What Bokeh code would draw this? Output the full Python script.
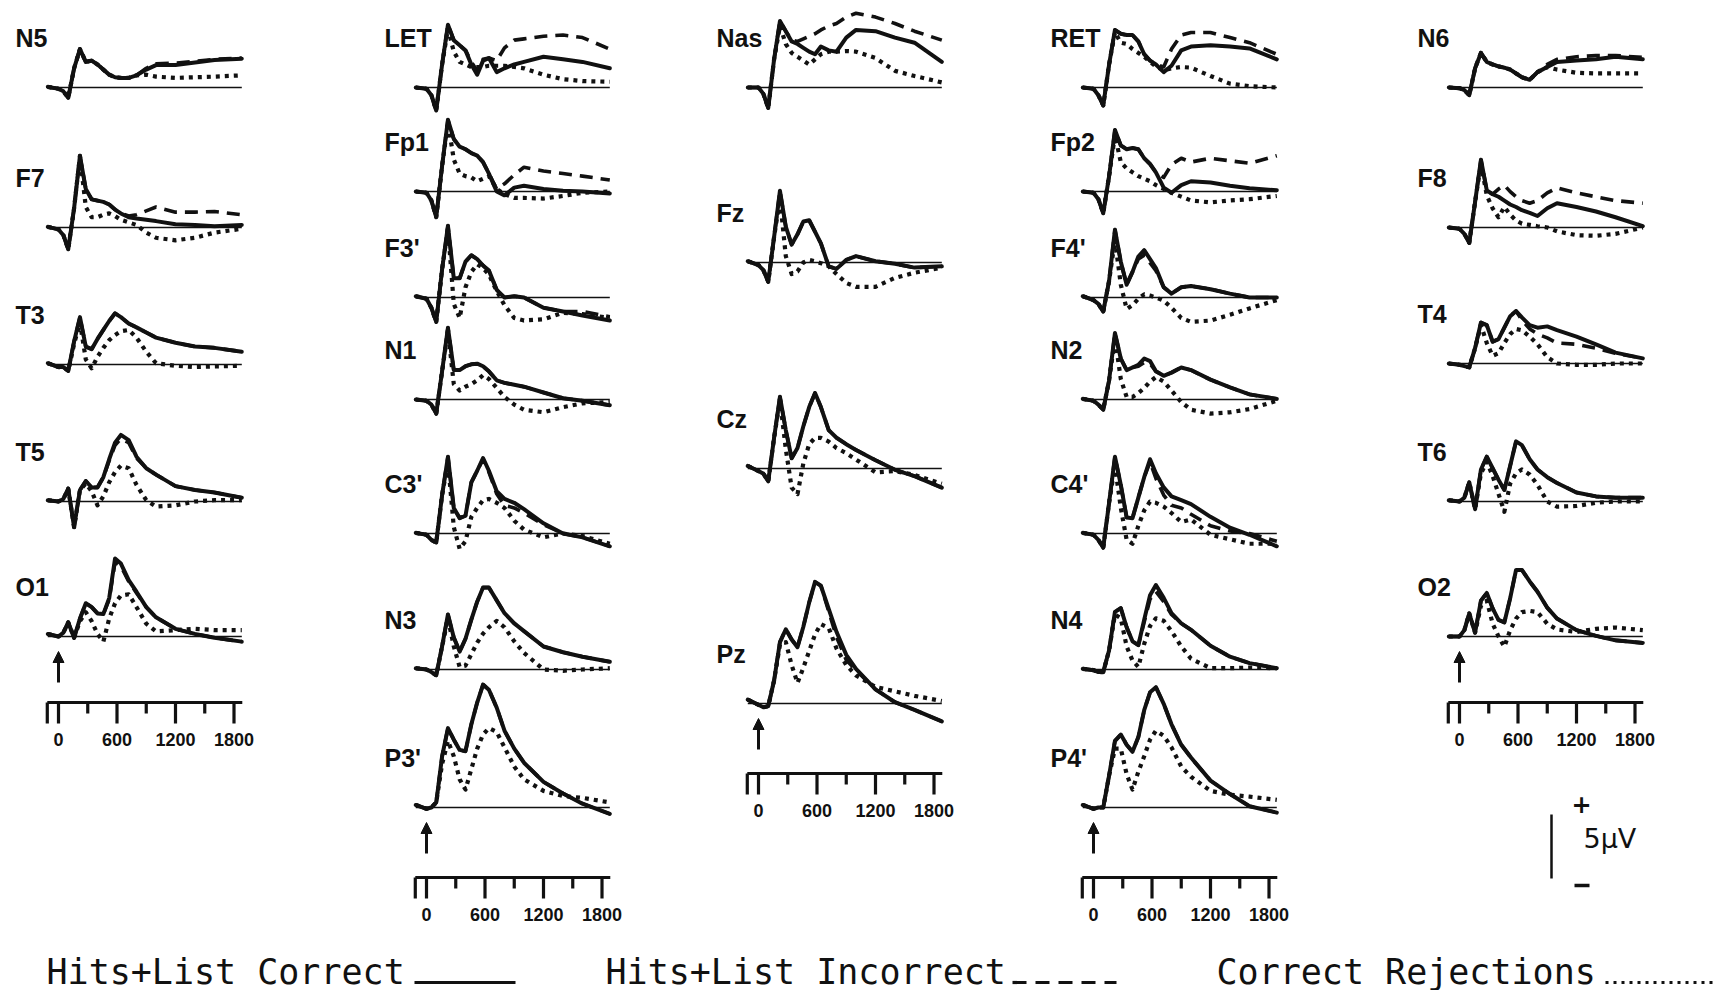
from bokeh.plotting import figure
from bokeh.models import Range1d, Arrow, NormalHead
from bokeh.embed import file_html
from bokeh.resources import INLINE
from bokeh.core.properties import value

# time points (ms) at which every waveform is sampled
T = [-110, 0, 50, 100, 160, 220, 280, 340, 400, 460, 520, 580, 640, 720, 800, 900, 1000, 1200, 1400, 1600, 1880]

# amplitudes in microvolts (positive up); hit = Hits+List Correct, inc = Hits+List Incorrect, cr = Correct Rejections
N5_hit = [0.05, -0.1, -0.3, -0.8, 1.5, 3.0, 2.0, 2.1, 1.8, 1.4, 1.0, 0.8, 0.75, 0.75, 0.95, 1.4, 1.75, 1.75, 1.95, 2.15, 2.25]
N5_inc = [0.05, -0.1, -0.3, -0.8, 1.5, 3.0, 2.0, 2.1, 1.8, 1.4, 1.0, 0.8, 0.75, 0.75, 0.95, 1.5, 1.85, 1.9, 2.05, 2.2, 2.3]
N5_cr = [0.05, -0.1, -0.3, -0.8, 1.5, 3.0, 2.0, 2.1, 1.8, 1.4, 1.0, 0.8, 0.75, 0.75, 0.95, 1.0, 0.85, 0.75, 0.8, 0.85, 0.95]

F7_hit = [0.05, -0.15, -0.6, -1.7, 1.5, 5.6, 3.0, 2.2, 2.1, 2.0, 1.8, 1.4, 1.1, 0.8, 0.7, 0.6, 0.5, 0.25, 0.2, 0.1, 0.2]
F7_inc = [0.05, -0.15, -0.6, -1.7, 1.5, 5.6, 3.0, 2.2, 2.1, 2.0, 1.8, 1.4, 1.1, 0.9, 1.0, 1.3, 1.6, 1.2, 1.2, 1.25, 1.0]
F7_cr = [0.05, -0.15, -0.6, -1.7, 1.5, 5.6, 1.6, 0.8, 0.8, 1.0, 1.1, 0.9, 0.6, 0.4, 0.2, -0.4, -0.8, -1.0, -0.8, -0.4, -0.1]

T3_hit = [0.1, -0.2, -0.2, -0.5, 1.8, 3.7, 1.4, 1.2, 2.0, 2.7, 3.4, 4.0, 3.7, 3.2, 2.9, 2.5, 2.1, 1.7, 1.4, 1.3, 1.0]
T3_inc = [0.1, -0.2, -0.2, -0.5, 1.8, 3.7, 1.4, 1.2, 2.0, 2.7, 3.4, 4.0, 3.7, 3.2, 2.9, 2.5, 2.1, 1.7, 1.4, 1.3, 1.0]
T3_cr = [0.1, -0.2, -0.2, -0.5, 1.6, 3.3, 0.4, -0.3, 0.6, 1.3, 1.9, 2.3, 2.6, 2.7, 2.1, 1.0, 0.1, -0.1, -0.2, -0.15, -0.1]

T5_hit = [0.1, 0.0, 0.2, 1.0, -2.0, 0.9, 1.6, 1.1, 1.1, 1.9, 3.3, 4.6, 5.2, 4.8, 3.5, 2.6, 2.1, 1.2, 0.9, 0.7, 0.3]
T5_inc = [0.1, 0.0, 0.2, 1.0, -2.0, 0.9, 1.6, 1.1, 1.1, 1.9, 3.2, 4.4, 4.9, 4.6, 3.4, 2.6, 2.1, 1.2, 0.9, 0.7, 0.3]
T5_cr = [0.1, 0.0, 0.2, 1.0, -2.0, 0.9, 1.4, 0.8, -0.3, 0.4, 1.5, 2.3, 2.8, 2.6, 1.3, 0.1, -0.4, -0.3, 0.0, 0.1, 0.1]

O1_hit = [0.2, 0.0, 0.3, 1.1, -0.1, 1.4, 2.6, 2.3, 1.8, 1.75, 3.0, 6.1, 5.7, 4.4, 3.5, 2.3, 1.5, 0.6, 0.2, -0.1, -0.4]
O1_inc = [0.2, 0.0, 0.3, 1.1, -0.1, 1.4, 2.6, 2.3, 1.8, 1.75, 2.9, 5.8, 5.5, 4.3, 3.4, 2.3, 1.5, 0.6, 0.2, -0.1, -0.4]
O1_cr = [0.2, 0.0, 0.3, 1.1, -0.1, 1.2, 1.9, 1.2, 0.2, -0.4, 1.4, 2.6, 3.2, 3.3, 2.3, 1.0, 0.4, 0.5, 0.6, 0.5, 0.5]

LET_hit = [0.0, -0.1, -0.6, -1.8, 1.8, 4.9, 3.7, 3.3, 2.9, 1.8, 1.0, 2.1, 2.3, 1.2, 1.5, 1.8, 2.0, 2.4, 2.2, 2.0, 1.5]
LET_inc = [0.0, -0.1, -0.6, -1.8, 1.8, 4.9, 3.7, 3.3, 2.9, 2.0, 1.3, 2.2, 2.3, 2.1, 3.1, 3.7, 3.8, 4.0, 4.1, 3.9, 3.0]
LET_cr = [0.0, -0.1, -0.6, -1.8, 1.8, 4.6, 2.8, 2.0, 1.8, 1.6, 1.6, 1.6, 1.7, 1.7, 1.7, 1.6, 1.5, 1.0, 0.65, 0.5, 0.45]

Fp1_hit = [0.0, -0.1, -0.7, -2.0, 2.0, 5.6, 4.1, 3.5, 3.3, 3.0, 2.8, 2.3, 1.4, 0.0, -0.3, 0.3, 0.45, 0.2, 0.05, 0.0, -0.15]
Fp1_inc = [0.0, -0.1, -0.7, -2.0, 2.0, 5.6, 4.1, 3.5, 3.3, 3.0, 2.8, 2.3, 1.4, 0.2, 0.6, 1.3, 1.9, 1.6, 1.4, 1.2, 0.9]
Fp1_cr = [0.0, -0.1, -0.7, -2.0, 2.0, 5.4, 2.5, 1.4, 1.2, 1.1, 0.8, 1.0, 1.2, 0.2, -0.2, -0.5, -0.5, -0.55, -0.35, -0.1, 0.0]

F3_hit = [0.1, -0.1, -0.8, -1.9, 2.2, 5.6, 1.5, 1.5, 2.8, 3.3, 3.0, 2.5, 2.1, 0.6, 0.0, 0.1, 0.0, -0.8, -1.1, -1.4, -1.8]
F3_inc = [0.1, -0.1, -0.8, -1.9, 2.2, 5.6, 1.5, 1.5, 2.8, 3.3, 3.0, 2.5, 2.1, 0.6, 0.0, 0.1, 0.0, -0.8, -1.1, -1.1, -1.5]
F3_cr = [0.1, -0.1, -0.8, -1.9, 2.2, 5.4, -0.5, -1.6, 0.8, 2.0, 2.6, 2.3, 1.8, 0.5, -0.6, -1.6, -1.8, -1.7, -1.2, -1.3, -1.6]

N1_hit = [0.0, -0.1, -0.4, -1.1, 2.2, 5.6, 2.3, 2.3, 2.6, 2.75, 2.8, 2.6, 2.2, 1.5, 1.3, 1.15, 1.0, 0.55, 0.1, -0.1, -0.45]
N1_inc = [0.0, -0.1, -0.4, -1.1, 2.2, 5.6, 2.3, 2.3, 2.6, 2.75, 2.8, 2.6, 2.2, 1.5, 1.3, 1.15, 1.0, 0.55, 0.1, -0.1, -0.45]
N1_cr = [0.0, -0.1, -0.4, -1.1, 2.2, 5.4, 1.2, 0.7, 1.0, 1.2, 1.5, 1.9, 1.6, 0.9, 0.2, -0.4, -0.8, -1.0, -0.6, -0.3, -0.2]

C3_hit = [0.05, -0.1, -0.5, -0.7, 3.0, 6.0, 2.0, 1.2, 1.4, 4.0, 4.9, 5.9, 4.9, 3.3, 2.7, 2.4, 1.9, 0.8, 0.0, -0.3, -1.0]
C3_inc = [0.05, -0.1, -0.5, -0.7, 3.0, 6.0, 2.0, 1.2, 1.4, 4.0, 4.9, 5.8, 4.8, 3.1, 2.2, 2.0, 1.6, 0.7, 0.0, -0.3, -1.0]
C3_cr = [0.05, -0.1, -0.5, -0.7, 3.0, 5.6, 0.5, -1.2, -0.6, 1.3, 2.0, 2.6, 2.7, 2.4, 2.0, 1.0, 0.3, -0.3, 0.0, -0.2, -0.8]

N3_hit = [0.1, 0.0, -0.2, -0.45, 1.8, 4.3, 2.5, 1.4, 2.4, 3.9, 5.3, 6.4, 6.4, 5.4, 4.4, 3.6, 3.0, 1.8, 1.35, 1.0, 0.6]
N3_inc = [0.1, 0.0, -0.2, -0.45, 1.8, 4.3, 2.5, 1.4, 2.4, 3.9, 5.3, 6.4, 6.4, 5.4, 4.4, 3.6, 3.0, 1.8, 1.35, 1.0, 0.6]
N3_cr = [0.1, 0.0, -0.2, -0.45, 1.8, 4.0, 1.8, 0.2, 0.3, 1.2, 2.1, 2.8, 3.3, 3.8, 3.3, 2.2, 1.3, 0.0, -0.1, 0.0, 0.1]

P3_hit = [0.2, -0.1, 0.0, 0.4, 4.0, 6.2, 5.3, 4.5, 4.4, 6.5, 8.2, 9.6, 9.2, 7.8, 6.0, 4.6, 3.5, 2.0, 1.1, 0.3, -0.5]
P3_inc = [0.2, -0.1, 0.0, 0.4, 4.0, 6.2, 5.3, 4.5, 4.4, 6.5, 8.2, 9.6, 9.2, 7.8, 6.0, 4.6, 3.5, 2.0, 1.1, 0.3, -0.5]
P3_cr = [0.2, -0.1, 0.0, 0.4, 3.4, 5.2, 4.0, 2.2, 1.4, 3.0, 4.6, 5.7, 6.2, 5.9, 4.7, 3.2, 2.2, 1.3, 0.9, 0.75, 0.4]

Nas_hit = [0.0, 0.0, -0.5, -1.6, 2.2, 5.2, 4.4, 3.6, 3.4, 3.1, 2.8, 2.6, 3.2, 2.9, 2.8, 3.9, 4.5, 4.4, 3.9, 3.5, 2.0]
Nas_inc = [0.0, 0.0, -0.5, -1.6, 2.2, 5.2, 4.4, 3.7, 3.6, 3.8, 4.0, 4.2, 4.5, 4.8, 5.0, 5.5, 5.8, 5.5, 5.0, 4.4, 3.7]
Nas_cr = [0.0, 0.0, -0.5, -1.6, 2.2, 4.8, 3.4, 2.7, 2.4, 2.1, 1.8, 2.2, 2.6, 2.8, 2.8, 2.85, 2.8, 2.3, 1.3, 0.9, 0.4]

Fz_hit = [0.1, -0.2, -0.6, -1.5, 2.0, 5.6, 2.8, 1.4, 2.2, 3.2, 3.3, 2.4, 1.5, -0.3, -0.5, 0.2, 0.5, 0.1, -0.1, -0.4, -0.3]
Fz_inc = [0.1, -0.2, -0.6, -1.5, 2.0, 5.6, 2.8, 1.4, 2.2, 3.2, 3.3, 2.4, 1.5, -0.3, -0.5, 0.2, 0.5, 0.1, -0.1, -0.4, -0.3]
Fz_cr = [0.1, -0.2, -0.6, -1.5, 2.0, 5.0, 0.5, -0.9, -0.7, 0.0, 0.2, 0.1, -0.05, -0.3, -0.9, -1.6, -1.9, -1.9, -1.2, -0.8, -0.4]

Cz_hit = [0.2, -0.2, -0.4, -1.0, 2.4, 5.6, 3.0, 0.8, 1.6, 3.3, 4.8, 5.9, 4.8, 3.0, 2.4, 1.9, 1.45, 0.65, -0.1, -0.6, -1.5]
Cz_inc = [0.2, -0.2, -0.4, -1.0, 2.4, 5.6, 3.0, 0.8, 1.6, 3.3, 4.8, 5.9, 4.8, 3.0, 2.4, 1.9, 1.45, 0.65, -0.1, -0.6, -1.5]
Cz_cr = [0.2, -0.2, -0.4, -1.0, 2.4, 5.4, 1.5, -1.5, -2.0, 0.4, 1.9, 2.4, 2.4, 2.1, 1.6, 1.2, 0.7, -0.3, -0.2, -0.5, -1.2]

Pz_hit = [0.3, -0.1, -0.3, -0.2, 1.8, 4.8, 5.8, 5.0, 4.4, 6.0, 7.9, 9.5, 9.2, 7.4, 5.6, 3.8, 2.7, 1.1, 0.1, -0.5, -1.4]
Pz_inc = [0.3, -0.1, -0.3, -0.2, 1.8, 4.8, 5.8, 5.0, 4.4, 6.0, 7.9, 9.5, 9.2, 7.2, 5.2, 3.4, 2.6, 1.1, 0.1, -0.5, -1.4]
Pz_cr = [0.3, -0.1, -0.3, -0.2, 1.8, 4.6, 4.8, 3.0, 1.6, 2.8, 4.1, 5.4, 6.2, 5.9, 4.3, 3.0, 2.2, 1.3, 0.95, 0.6, 0.2]

RET_hit = [0.0, -0.1, -0.6, -1.4, 1.8, 4.5, 4.2, 4.1, 4.1, 3.6, 2.6, 2.1, 1.8, 1.2, 1.7, 2.9, 3.2, 3.3, 3.2, 3.05, 2.2]
RET_inc = [0.0, -0.1, -0.6, -1.4, 1.8, 4.5, 4.2, 4.1, 4.1, 3.6, 2.6, 2.1, 1.8, 1.6, 3.0, 4.1, 4.3, 4.3, 3.9, 3.5, 2.6]
RET_cr = [0.0, -0.1, -0.6, -1.4, 1.8, 4.3, 3.5, 3.4, 3.0, 2.7, 2.4, 2.0, 1.65, 1.35, 1.5, 1.6, 1.55, 0.9, 0.3, 0.1, 0.0]

Fp2_hit = [0.0, -0.1, -0.6, -1.7, 1.2, 4.8, 3.6, 3.3, 3.4, 3.3, 2.6, 2.15, 1.5, 0.3, -0.1, 0.5, 0.8, 0.7, 0.45, 0.25, 0.1]
Fp2_inc = [0.0, -0.1, -0.6, -1.7, 1.2, 4.8, 3.6, 3.3, 3.4, 3.3, 2.6, 2.15, 1.5, 1.1, 2.1, 2.6, 2.3, 2.6, 2.4, 2.2, 2.8]
Fp2_cr = [0.0, -0.1, -0.6, -1.7, 1.2, 4.4, 2.3, 1.8, 1.5, 1.2, 1.0, 0.8, 0.5, 0.2, -0.1, -0.4, -0.7, -0.85, -0.7, -0.6, -0.35]

F4_hit = [0.1, -0.2, -0.5, -1.1, 1.3, 5.3, 2.8, 1.0, 2.0, 3.2, 3.7, 3.0, 2.3, 0.8, 0.3, 0.8, 0.9, 0.65, 0.3, 0.0, 0.0]
F4_inc = [0.1, -0.2, -0.5, -1.1, 1.3, 5.3, 2.8, 1.0, 2.0, 3.0, 3.3, 2.7, 2.1, 0.8, 0.3, 0.8, 0.9, 0.65, 0.3, 0.0, 0.0]
F4_cr = [0.1, -0.2, -0.5, -1.1, 1.3, 4.5, 1.0, -0.9, -0.6, -0.1, 0.25, 0.15, 0.0, -0.25, -0.8, -1.6, -1.9, -1.8, -1.35, -0.85, -0.2]

N2_hit = [0.05, -0.1, -0.4, -0.8, 1.5, 5.2, 3.2, 2.3, 2.5, 2.7, 3.2, 3.0, 2.2, 1.85, 2.1, 2.5, 2.3, 1.55, 0.95, 0.4, 0.05]
N2_inc = [0.05, -0.1, -0.4, -0.8, 1.5, 5.2, 3.2, 2.3, 2.5, 2.6, 2.9, 2.8, 2.2, 1.85, 2.1, 2.5, 2.3, 1.55, 0.95, 0.4, 0.05]
N2_cr = [0.05, -0.1, -0.4, -0.8, 1.5, 4.8, 1.6, 0.2, 0.2, 0.5, 0.9, 1.4, 1.75, 1.4, 0.7, -0.2, -0.8, -1.1, -1.0, -0.75, -0.1]

C4_hit = [0.05, -0.1, -0.5, -1.1, 2.4, 6.0, 3.8, 1.25, 1.2, 2.8, 4.4, 5.8, 4.7, 3.6, 2.9, 2.6, 2.3, 1.3, 0.45, -0.1, -1.0]
C4_inc = [0.05, -0.1, -0.5, -1.1, 2.4, 6.0, 3.8, 1.25, 1.2, 2.8, 4.4, 5.6, 4.3, 3.0, 2.2, 2.0, 1.5, 0.6, 0.2, 0.0, -0.6]
C4_cr = [0.05, -0.1, -0.5, -1.1, 2.4, 5.3, 2.0, -0.5, -0.8, 0.6, 1.8, 2.5, 2.4, 2.1, 1.6, 0.9, 1.1, -0.1, -0.45, -0.8, -0.8]

N4_hit = [0.05, -0.05, -0.2, -0.2, 1.5, 4.5, 4.8, 3.3, 2.2, 1.9, 3.9, 5.8, 6.6, 5.6, 4.4, 3.6, 3.1, 1.85, 1.0, 0.5, 0.1]
N4_inc = [0.05, -0.05, -0.2, -0.2, 1.5, 4.5, 4.8, 3.3, 2.2, 1.9, 3.7, 5.5, 6.1, 5.3, 4.3, 3.6, 3.1, 1.85, 1.0, 0.5, 0.1]
N4_cr = [0.05, -0.05, -0.2, -0.2, 1.5, 4.3, 4.0, 1.8, 0.7, 0.2, 2.0, 3.4, 4.0, 3.8, 3.0, 1.8, 0.85, 0.1, 0.1, 0.15, 0.1]

P4_hit = [0.2, -0.1, 0.0, 0.0, 2.5, 5.2, 5.7, 4.9, 4.35, 5.5, 7.6, 9.0, 9.4, 8.1, 6.5, 4.9, 3.9, 2.1, 1.05, 0.1, -0.4]
P4_inc = [0.2, -0.1, 0.0, 0.0, 2.5, 5.2, 5.7, 4.9, 4.35, 5.5, 7.6, 9.0, 9.4, 8.1, 6.5, 4.9, 3.9, 2.1, 1.05, 0.1, -0.4]
P4_cr = [0.2, -0.1, 0.0, 0.0, 2.5, 4.6, 4.6, 2.6, 1.4, 2.8, 4.0, 5.3, 6.0, 5.6, 4.7, 3.2, 2.4, 1.3, 1.0, 0.85, 0.6]

N6_hit = [0.0, -0.05, -0.2, -0.6, 1.5, 2.7, 2.0, 1.8, 1.65, 1.55, 1.4, 1.1, 0.8, 0.6, 1.2, 1.6, 2.0, 2.1, 2.2, 2.4, 2.2]
N6_inc = [0.0, -0.05, -0.2, -0.6, 1.5, 2.7, 2.0, 1.8, 1.65, 1.55, 1.4, 1.1, 0.8, 0.6, 1.2, 1.8, 2.2, 2.4, 2.5, 2.5, 2.35]
N6_cr = [0.0, -0.05, -0.2, -0.6, 1.5, 2.7, 2.0, 1.8, 1.65, 1.55, 1.4, 1.1, 0.8, 0.6, 1.2, 1.6, 1.4, 1.15, 1.1, 1.1, 1.1]

F8_hit = [0.0, -0.1, -0.5, -1.2, 2.0, 5.3, 2.9, 2.6, 2.4, 2.1, 1.8, 1.6, 1.35, 1.15, 0.9, 1.5, 1.9, 1.6, 1.25, 0.8, 0.1]
F8_inc = [0.0, -0.1, -0.5, -1.2, 2.0, 5.3, 2.9, 2.6, 3.0, 3.3, 2.8, 2.4, 2.1, 1.9, 2.1, 2.7, 3.1, 2.7, 2.4, 2.1, 1.9]
F8_cr = [0.0, -0.1, -0.5, -1.2, 2.0, 5.0, 2.5, 1.5, 0.8, 1.6, 1.0, 0.55, 0.3, 0.2, 0.1, 0.0, -0.3, -0.6, -0.65, -0.5, 0.0]

T4_hit = [0.0, -0.1, -0.2, -0.3, 1.2, 3.2, 3.0, 1.7, 1.9, 2.8, 3.7, 4.1, 3.6, 3.0, 2.8, 2.9, 2.6, 2.1, 1.5, 0.85, 0.4]
T4_inc = [0.0, -0.1, -0.2, -0.3, 1.2, 3.2, 3.0, 1.7, 1.9, 2.8, 3.7, 4.1, 3.4, 2.7, 2.3, 2.0, 1.6, 1.5, 1.2, 0.8, 0.4]
T4_cr = [0.0, -0.1, -0.2, -0.3, 1.2, 3.0, 1.6, 0.6, 0.8, 1.6, 2.3, 2.7, 2.6, 2.1, 1.5, 0.5, 0.0, -0.1, -0.1, 0.0, 0.0]

T6_hit = [0.1, 0.0, 0.3, 1.5, -0.6, 2.5, 3.5, 2.6, 1.7, 0.9, 2.8, 4.7, 4.4, 3.3, 2.5, 1.9, 1.45, 0.7, 0.4, 0.3, 0.3]
T6_inc = [0.1, 0.0, 0.3, 1.5, -0.6, 2.5, 3.5, 2.6, 1.7, 0.9, 2.8, 4.7, 4.4, 3.3, 2.5, 1.9, 1.45, 0.7, 0.4, 0.3, 0.3]
T6_cr = [0.1, 0.0, 0.3, 1.5, -0.6, 2.2, 3.1, 2.0, 0.6, -0.8, 1.4, 2.2, 2.5, 2.1, 1.3, 0.0, -0.4, -0.35, -0.1, 0.0, 0.0]

O2_hit = [0.0, 0.0, 0.5, 1.8, 0.3, 2.8, 3.4, 2.2, 1.3, 1.1, 3.0, 5.2, 5.2, 4.3, 3.5, 2.25, 1.4, 0.5, 0.05, -0.3, -0.5]
O2_inc = [0.0, 0.0, 0.5, 1.8, 0.3, 2.8, 3.4, 2.2, 1.3, 1.1, 3.0, 5.2, 5.2, 4.3, 3.5, 2.25, 1.4, 0.5, 0.05, -0.3, -0.5]
O2_cr = [0.0, 0.0, 0.5, 1.8, 0.3, 2.4, 2.8, 1.0, 0.0, -0.8, 0.5, 1.4, 1.9, 2.0, 1.9, 1.0, 0.55, 0.35, 0.6, 0.7, 0.5]

# axis tick values (ms) and labels
TICKS_MAJOR = [0, 600, 1200, 1800]
TICK_LABELS = ["0", "600", "1200", "1800"]
TICKS_MINOR = [300, 900, 1500]
LEGEND_LABELS = ["Hits+List Correct", "Hits+List Incorrect", "Correct Rejections"]

# ---- layout (page pixels) ----
W, H = 1721, 990
COL_X0 = [58, 426, 758, 1093, 1459]   # x of t = 0 in each column
LABEL_X = [15, 384, 716, 1050, 1417]
AXIS_Y = [702, 877, 773, 877, 702]
KX = 0.0975   # px per ms
KY = 12.8     # px per microvolt

PANELS = [
    ("N5", 0, 87, N5_hit, N5_inc, N5_cr),
    ("F7", 0, 227, F7_hit, F7_inc, F7_cr),
    ("T3", 0, 364, T3_hit, T3_inc, T3_cr),
    ("T5", 0, 501, T5_hit, T5_inc, T5_cr),
    ("O1", 0, 636, O1_hit, O1_inc, O1_cr),
    ("LET", 1, 87, LET_hit, LET_inc, LET_cr),
    ("Fp1", 1, 191, Fp1_hit, Fp1_inc, Fp1_cr),
    ("F3'", 1, 297, F3_hit, F3_inc, F3_cr),
    ("N1", 1, 399, N1_hit, N1_inc, N1_cr),
    ("C3'", 1, 533, C3_hit, C3_inc, C3_cr),
    ("N3", 1, 669, N3_hit, N3_inc, N3_cr),
    ("P3'", 1, 807, P3_hit, P3_inc, P3_cr),
    ("Nas", 2, 87, Nas_hit, Nas_inc, Nas_cr),
    ("Fz", 2, 262, Fz_hit, Fz_inc, Fz_cr),
    ("Cz", 2, 468, Cz_hit, Cz_inc, Cz_cr),
    ("Pz", 2, 703, Pz_hit, Pz_inc, Pz_cr),
    ("RET", 3, 87, RET_hit, RET_inc, RET_cr),
    ("Fp2", 3, 191, Fp2_hit, Fp2_inc, Fp2_cr),
    ("F4'", 3, 297, F4_hit, F4_inc, F4_cr),
    ("N2", 3, 399, N2_hit, N2_inc, N2_cr),
    ("C4'", 3, 533, C4_hit, C4_inc, C4_cr),
    ("N4", 3, 669, N4_hit, N4_inc, N4_cr),
    ("P4'", 3, 807, P4_hit, P4_inc, P4_cr),
    ("N6", 4, 87, N6_hit, N6_inc, N6_cr),
    ("F8", 4, 227, F8_hit, F8_inc, F8_cr),
    ("T4", 4, 363, T4_hit, T4_inc, T4_cr),
    ("T6", 4, 501, T6_hit, T6_inc, T6_cr),
    ("O2", 4, 636, O2_hit, O2_inc, O2_cr),
]

p = figure(width=W, height=H, x_range=Range1d(0, W), y_range=Range1d(H, 0),
           output_backend="svg", toolbar_location=None, min_border=0)
p.axis.visible = False
p.grid.visible = False
p.outline_line_color = None
p.background_fill_color = "white"

INK = "#111111"

def px(col, t):
    return COL_X0[col] + t * KX

def py(base, v):
    return base - v * KY

lab_x, lab_y, lab_t = [], [], []
last_base = {}
for name, col, base, hit, inc, cr in PANELS:
    # zero baseline
    p.line([px(col, T[0]), px(col, T[-1])], [base, base], line_color=INK, line_width=1.6)
    xs = [px(col, t) for t in T]
    p.line(xs, [py(base, v) for v in cr], line_color=INK, line_width=4.2,
           line_dash="4 5", line_join="round")
    p.line(xs, [py(base, v) for v in inc], line_color=INK, line_width=3.6,
           line_dash="13 8", line_join="round")
    p.line(xs, [py(base, v) for v in hit], line_color=INK, line_width=4.0,
           line_join="round", line_cap="round")
    lab_x.append(LABEL_X[col]); lab_y.append(base - 50); lab_t.append(name)
    last_base[col] = max(base, last_base.get(col, 0))

p.text(lab_x, lab_y, text=lab_t, text_font=value("Liberation Sans"), text_font_style="bold",
       text_font_size="25px", text_baseline="middle", text_align="left", text_color=INK)

# time axes + stimulus arrows
for col in range(5):
    ay = AXIS_Y[col]
    p.line([px(col, -115), px(col, 1885)], [ay, ay], line_color=INK, line_width=3.2)
    long_t = [-115] + TICKS_MAJOR
    p.segment([px(col, t) for t in long_t], [ay] * len(long_t),
              [px(col, t) for t in long_t], [ay + 21] * len(long_t), line_color=INK, line_width=3.2)
    p.segment([px(col, t) for t in TICKS_MINOR], [ay] * 3,
              [px(col, t) for t in TICKS_MINOR], [ay + 11] * 3, line_color=INK, line_width=3.2)
    p.text([px(col, t) for t in TICKS_MAJOR], [ay + 37] * 4, text=TICK_LABELS,
           text_font=value("Liberation Sans"), text_font_style="bold", text_font_size="18px",
           text_align="center", text_baseline="middle", text_color=INK)
    b = last_base[col]
    p.add_layout(Arrow(end=NormalHead(size=11, fill_color=INK, line_color=INK),
                       x_start=px(col, 0), y_start=b + 46, x_end=px(col, 0), y_end=b + 15,
                       line_color=INK, line_width=3))

# 5 microvolt calibration bar
SCALE_UV = 5
bar_x, bar_top = 1551, 814
p.line([bar_x, bar_x], [bar_top, bar_top + SCALE_UV * KY], line_color=INK, line_width=2.5)
p.text([1581], [803], text=["+"], text_font=value("DejaVu Sans"), text_font_style="bold",
       text_font_size="24px", text_align="center", text_baseline="middle", text_color=INK)
p.text([1583], [838], text=["5µV"], text_font=value("DejaVu Sans"),
       text_font_size="27px", text_align="left", text_baseline="middle", text_color=INK)
p.line([1574, 1589], [885, 885], line_color=INK, line_width=3.5)

# legend
LEG_Y = 971
leg_x = [46, 605, 1216]
p.text(leg_x, [LEG_Y] * 3, text=LEGEND_LABELS, text_font=value("DejaVu Sans Mono"),
       text_font_size="35px", text_align="left", text_baseline="middle", text_color=INK)
p.line([414, 515], [982, 982], line_color=INK, line_width=3.2)
p.line([1012, 1116], [982, 982], line_color=INK, line_width=3.2, line_dash="14 9")
p.line([1605, 1712], [982, 982], line_color=INK, line_width=3.2, line_dash="3 5")

open("out.html", "w").write(file_html(p, INLINE))
